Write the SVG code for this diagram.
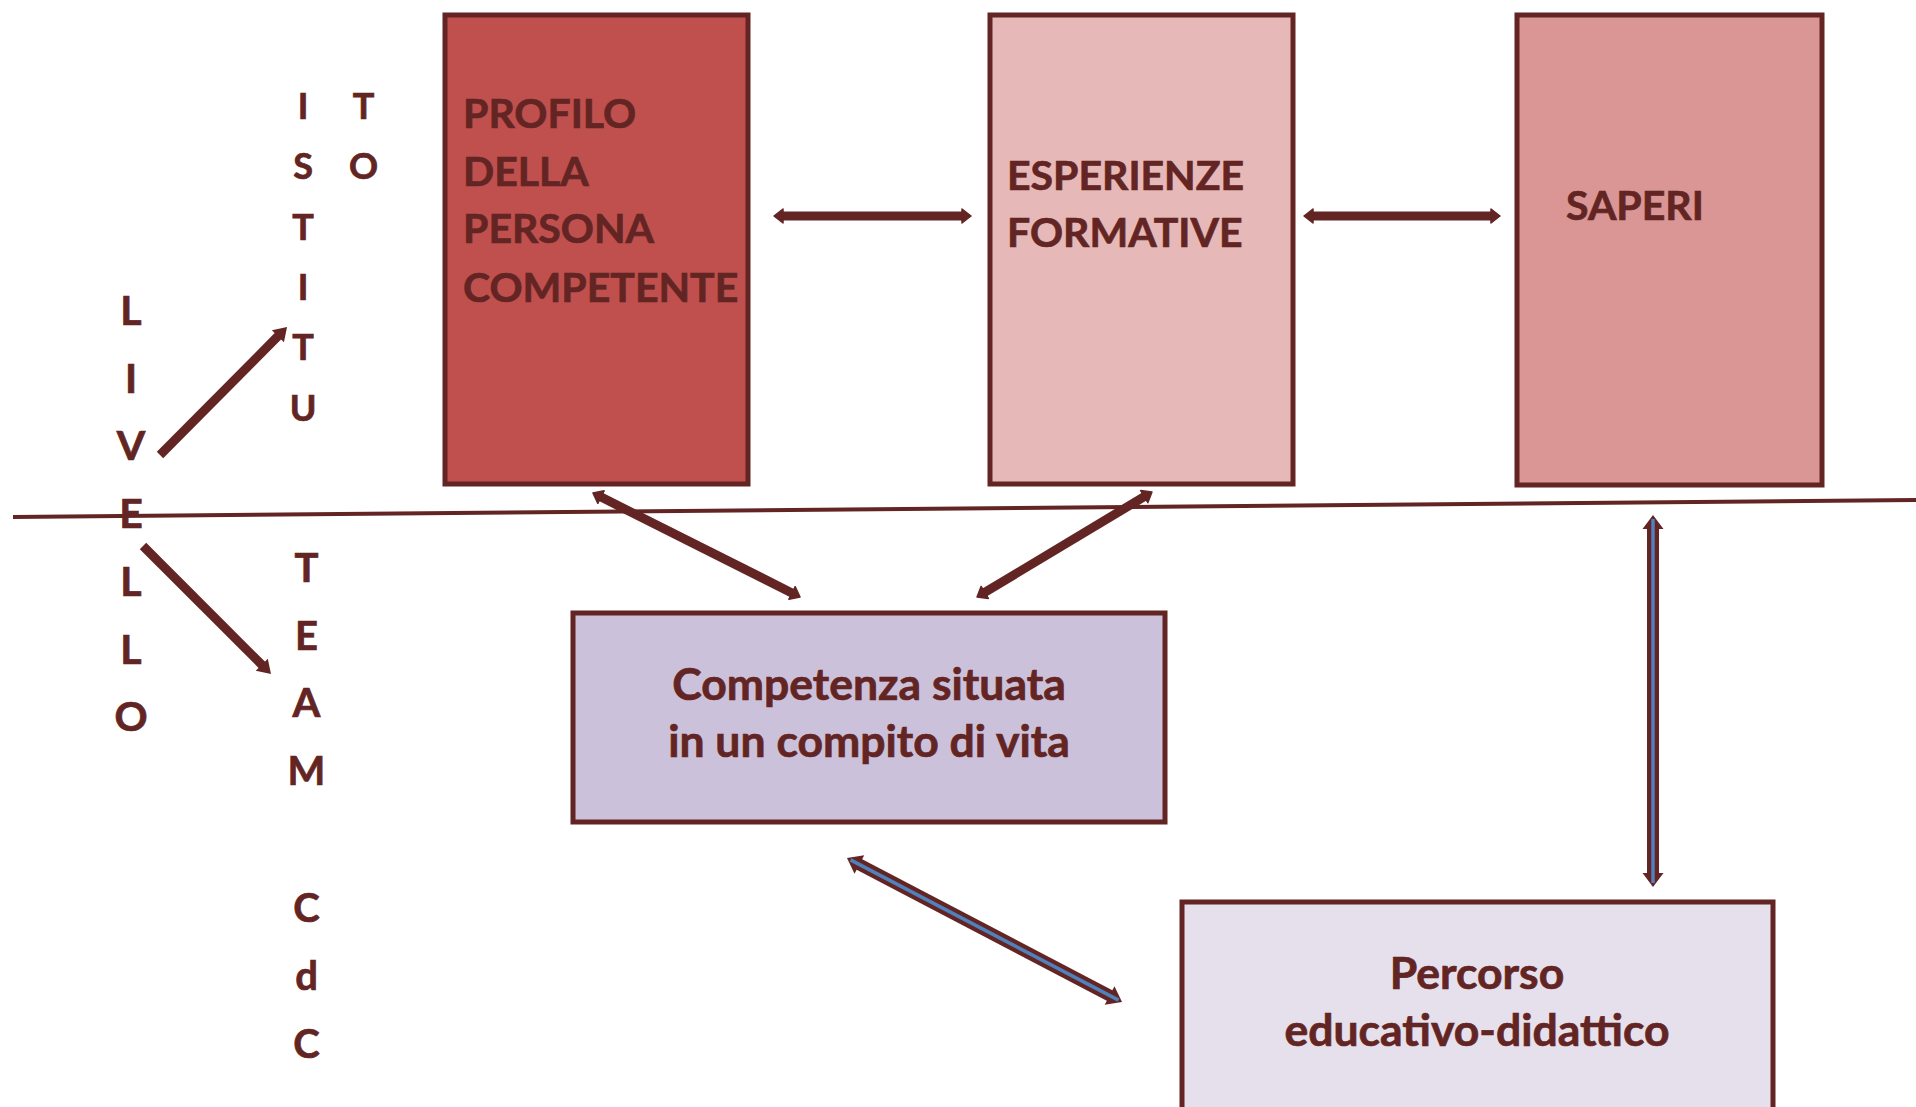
<svg xmlns="http://www.w3.org/2000/svg" width="1916" height="1107" viewBox="0 0 1916 1107">
<style>
.box{stroke:#632523;stroke-width:5}
.t{font-family:Lato,'Open Sans','Liberation Sans',sans-serif;font-weight:bold;fill:#632523;stroke:#632523;stroke-width:0.7;font-size:41px}
.lc{font-size:44.5px}
.c{text-anchor:middle}
.lv{font-size:41px}
.is{font-size:36px}
.tm{font-size:40px}
.thick{stroke:#632523;stroke-width:9;fill:none}
.dbl{stroke:#632523;stroke-width:12;fill:none}
.blue{stroke:#4F81BD;stroke-width:3.5;fill:none}
.div{stroke:#632523;stroke-width:4;fill:none}
</style>
<defs>
<marker id="hs" markerUnits="userSpaceOnUse" viewBox="-2 -10 14 20" refX="0" refY="0" markerWidth="14" markerHeight="20" orient="auto-start-reverse">
<path d="M-1,-7 L8,0 L-1,7 z" fill="#632523" stroke="#632523" stroke-width="1.5" stroke-linejoin="round"/>
</marker>
<marker id="ht" markerUnits="userSpaceOnUse" viewBox="-2 -10 16 20" refX="0" refY="0" markerWidth="16" markerHeight="20" orient="auto">
<path d="M-1,-8.5 L12,0 L-1,8.5 z" fill="#632523"/>
</marker>
<marker id="hb" markerUnits="userSpaceOnUse" viewBox="-2 -12 17 24" refX="0" refY="0" markerWidth="17" markerHeight="24" orient="auto-start-reverse">
<path d="M-1,-10.5 L13,0 L-1,10.5 z" fill="#632523"/>
</marker>
</defs>

<g id="divider">
<line class="div" x1="13" y1="517" x2="1916" y2="500"/>
</g>

<g id="node-profilo">
<rect class="box" x="445" y="15" width="303" height="469" fill="#C0504D"/>
<text class="t" x="463" y="128">PROFILO</text>
<text class="t" x="463" y="186">DELLA</text>
<text class="t" x="463" y="243">PERSONA</text>
<text class="t" x="463" y="302">COMPETENTE</text>
</g>

<g id="node-esperienze">
<rect class="box" x="990" y="15" width="303" height="469" fill="#E6B9B8"/>
<text class="t" x="1007" y="190">ESPERIENZE</text>
<text class="t" x="1007" y="247">FORMATIVE</text>
</g>

<g id="node-saperi">
<rect class="box" x="1517" y="15" width="305" height="470" fill="#D99694"/>
<text class="t" x="1566" y="220">SAPERI</text>
</g>

<g id="node-competenza">
<rect class="box" x="573" y="613" width="592" height="209" fill="#CCC1DA"/>
<text class="t c lc" x="869" y="700">Competenza situata</text>
<text class="t c lc" x="869" y="757">in un compito di vita</text>
</g>

<g id="node-percorso">
<rect class="box" x="1182" y="902" width="591" height="230" fill="#E5E0EC"/>
<text class="t c lc" x="1477" y="989">Percorso</text>
<text class="t c lc" x="1477" y="1046">educativo-didattico</text>
</g>

<g id="label-livello">
<text class="t c lv" x="131" y="325">L</text>
<text class="t c lv" x="131" y="393">I</text>
<text class="t c lv" x="131" y="460">V</text>
<text class="t c lv" x="131" y="528">E</text>
<text class="t c lv" x="131" y="596">L</text>
<text class="t c lv" x="131" y="664">L</text>
<text class="t c lv" x="131" y="731">O</text>
</g>

<g id="label-istituto">
<text class="t c is" x="303" y="119">I</text>
<text class="t c is" x="303" y="179">S</text>
<text class="t c is" x="303" y="240">T</text>
<text class="t c is" x="303" y="300">I</text>
<text class="t c is" x="303" y="360">T</text>
<text class="t c is" x="303" y="421">U</text>
<text class="t c is" x="363.5" y="119">T</text>
<text class="t c is" x="363.5" y="179">O</text>
</g>

<g id="label-team">
<text class="t c tm" x="306.5" y="582">T</text>
<text class="t c tm" x="306.5" y="650">E</text>
<text class="t c tm" x="306.5" y="717">A</text>
<text class="t c tm" x="306.5" y="785">M</text>
<text class="t c tm" x="306.5" y="922">C</text>
<text class="t c tm" x="306.5" y="990">d</text>
<text class="t c tm" x="306.5" y="1058">C</text>
</g>

<g id="connectors">
<line class="thick" x1="782" y1="216" x2="963" y2="216" marker-start="url(#hs)" marker-end="url(#hs)"/>
<line class="thick" x1="1312" y1="216" x2="1492" y2="216" marker-start="url(#hs)" marker-end="url(#hs)"/>
<line class="thick" x1="600.1" y1="496.6" x2="792.9" y2="593.4" marker-start="url(#hs)" marker-end="url(#hs)"/>
<line class="thick" x1="1145.1" y1="496.1" x2="983.9" y2="592.9" marker-start="url(#hs)" marker-end="url(#hs)"/>
<line class="thick" x1="160" y1="455" x2="278.6" y2="335.5" marker-end="url(#ht)"/>
<line class="thick" x1="143" y1="546" x2="262.5" y2="665.5" marker-end="url(#ht)"/>
<line class="dbl" x1="1653" y1="528" x2="1653" y2="874" marker-start="url(#hb)" marker-end="url(#hb)"/>
<line class="blue" x1="1653" y1="519" x2="1653" y2="883"/>
<line class="dbl" x1="858.5" y1="864" x2="1110.5" y2="996" marker-start="url(#hb)" marker-end="url(#hb)"/>
<line class="blue" x1="850.5" y1="859.9" x2="1118.5" y2="1000.1"/>
</g>
</svg>
